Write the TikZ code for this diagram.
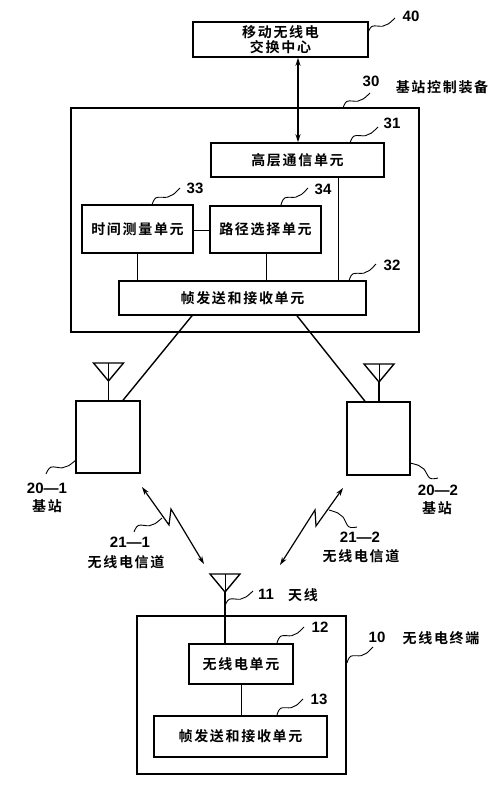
\documentclass[tikz,border=0pt]{standalone}
\usepackage{fontspec}
\usetikzlibrary{arrows.meta,calc}
\newfontfamily\cjk[LetterSpace=12]{Noto Sans CJK SC}[BoldFont={* Bold}]
\newfontfamily\numf{Liberation Sans}
\tikzset{
  box/.style={draw=black,line width=1.5pt,fill=none,inner sep=0pt,align=center,font=\cjk\bfseries\fontsize{14}{16}\selectfont},
  conn/.style={draw=black,line width=0.9pt},
  thick conn/.style={draw=black,line width=1.4pt},
  link/.style={draw=black,line width=1.4pt,{Stealth[length=8pt,width=5pt]}-{Stealth[length=8pt,width=5pt]}},
  radio/.style={draw=black,line width=1.2pt,line join=miter,{Stealth[length=8pt,width=5pt]}-{Stealth[length=8pt,width=5pt]}},
  lead/.style={draw=black,line width=0.9pt},
  num/.style={font=\numf\bfseries\fontsize{15}{17}\selectfont,inner sep=0pt},
  lab/.style={font=\cjk\bfseries\fontsize{14}{16}\selectfont,inner sep=0pt,align=center},
}
\newcommand{\wave}[2]{\draw[lead] plot[smooth,tension=.6] coordinates {(#1) ($(#1)!.22!(#2)!.16!90:(#2)$) ($(#1)!.52!(#2)!.08!-90:(#2)$) ($(#1)!.72!(#2)!.22!-90:(#2)$) (#2)};}
\newcommand{\bx}[6]{\node[box,minimum width=#4pt-#2pt,minimum height=#5pt-#3pt] (#1) at ({(#2+#4)/2},{(#3+#5)/2}) {#6};}
\newcommand{\antenna}[3]{%
  \coordinate (#1top) at (#2,#3);
  \coordinate (#1l) at ($(#1top)+(-15,0)$);
  \coordinate (#1r) at ($(#1top)+(15,0)$);
  \coordinate (#1apex) at ($(#1top)+(0,18)$);
  \draw[thick conn,line join=miter] (#1l) -- (#1r) -- (#1apex) -- cycle;
  \draw[conn] (#1top) -- (#1apex);
}
\begin{document}
\begin{tikzpicture}[x=1pt,y=-1pt]
\useasboundingbox (0,0) rectangle (500,800);
\bx{n40}{193}{22}{368}{57}{移动无线电\\[-1pt]交换中心}
\bx{n30}{71}{108}{419}{332}{}
\bx{n31}{211}{143}{384}{177}{高层通信单元}
\bx{n33}{82}{205}{193}{253}{时间测量单元}
\bx{n34}{210}{206}{321}{253}{路径选择单元}
\bx{n32}{119}{281}{366}{315}{帧发送和接收单元}
\bx{n20a}{76}{401}{140}{473}{}
\bx{n20b}{347}{402}{410}{475}{}
\bx{n10}{137}{616}{346}{774}{}
\bx{n12}{189}{644}{293}{684}{无线电单元}
\bx{n13}{154}{716}{327}{757}{帧发送和接收单元}
% reference x positions
\coordinate (xa) at (298,0);
\coordinate (xb) at (338,0);
\coordinate (xc) at (137,0);
\coordinate (xd) at (266,0);
\coordinate (xe) at (241,0);
\coordinate (xf) at (192,0);
\coordinate (xg) at (297,0);
\coordinate (xh) at (123,0);
\coordinate (xi) at (365,0);
% connectors
\draw[link] (n40.south -| xa) -- (n31.north -| xa);
\draw[conn] (n31.south -| xb) -- (n32.north -| xb);
\draw[conn] (n33.east |- 0,230) -- (n34.west |- 0,230);
\draw[conn] (n33.south -| xc) -- (n32.north -| xc);
\draw[conn] (n34.south -| xd) -- (n32.north -| xd);
\draw[conn] (n12.south -| xe) -- (n13.north -| xe);
\draw[thick conn] (n32.south -| xf) -- (n20a.north -| xh);
\draw[thick conn] (n32.south -| xg) -- (n20b.north -| xi);
% antennas
\antenna{aa}{108.5}{363}
\antenna{ab}{379}{364}
\antenna{ac}{225}{574}
\draw[thick conn] (aaapex) -- (aaapex |- n20a.north);
\draw[thick conn] (abapex) -- (abapex |- n20b.north);
\draw[thick conn] (acapex) -- (acapex |- n12.north);
% radio channels
\coordinate (c1a) at (142,487); \coordinate (c1b) at (169,525);
\coordinate (c1c) at (171,509); \coordinate (c1d) at (204,564);
\draw[radio] (c1a) -- (c1b) -- (c1c) -- (c1d);
\coordinate (c2a) at (343,488); \coordinate (c2b) at (316,526);
\coordinate (c2c) at (315,510); \coordinate (c2d) at (280,565);
\draw[radio] (c2a) -- (c2b) -- (c2c) -- (c2d);
% numbers and labels
\node[num] (l40) at (411,16) {40};
\node[num] (l30) at (371,81) {30};
\node[lab] (t30) at (442,87) {基站控制装备};
\node[num] (l31) at (392,123) {31};
\node[num] (l33) at (195,188) {33};
\node[num] (l34) at (323,189) {34};
\node[num] (l32) at (392,265) {32};
\node[num] (l201) at (47,488) {20—1};
\node[lab] (t201) at (47,506) {基站};
\node[num] (l202) at (438,490) {20—2};
\node[lab] (t202) at (437,508) {基站};
\node[num] (l211) at (130,542) {21—1};
\node[lab] (t211) at (126,562) {无线电信道};
\node[num] (l212) at (360,537) {21—2};
\node[lab] (t212) at (361,556) {无线电信道};
\node[num] (l11) at (266,594) {11};
\node[lab] (t11) at (303,595) {天线};
\node[num] (l12) at (320,627) {12};
\node[num] (l13) at (319,699) {13};
\node[num] (l10) at (377,637) {10};
\node[lab] (t10) at (441,638) {无线电终端};
% leader lines
\coordinate (w40a) at (368,33); \coordinate (w40b) at (395,18); \wave{w40a}{w40b}
\coordinate (w30a) at (343,108); \coordinate (w30b) at (370,93); \wave{w30a}{w30b}
\coordinate (w31a) at (350,143); \coordinate (w31b) at (378,127); \wave{w31a}{w31b}
\coordinate (w33a) at (152,205); \coordinate (w33b) at (180,188); \wave{w33a}{w33b}
\coordinate (w34a) at (281,205); \coordinate (w34b) at (308,188); \wave{w34a}{w34b}
\coordinate (w32a) at (349,281); \coordinate (w32b) at (376,264); \wave{w32a}{w32b}
\coordinate (w201a) at (76,460); \coordinate (w201b) at (46,474); \wave{w201b}{w201a}
\coordinate (w202a) at (410,463); \coordinate (w202b) at (438,478); \wave{w202b}{w202a}
\coordinate (w211a) at (162,518); \coordinate (w211b) at (134,532); \wave{w211b}{w211a}
\coordinate (w212a) at (329,510); \coordinate (w212b) at (357,527); \wave{w212b}{w212a}
\coordinate (w11a) at (225,606); \coordinate (w11b) at (253,591); \wave{w11a}{w11b}
\coordinate (w12a) at (277,643); \coordinate (w12b) at (304,627); \wave{w12a}{w12b}
\coordinate (w13a) at (277,715); \coordinate (w13b) at (303,699); \wave{w13a}{w13b}
\coordinate (w10a) at (347,663); \coordinate (w10b) at (373,647); \wave{w10a}{w10b}
\end{tikzpicture}
\end{document}
